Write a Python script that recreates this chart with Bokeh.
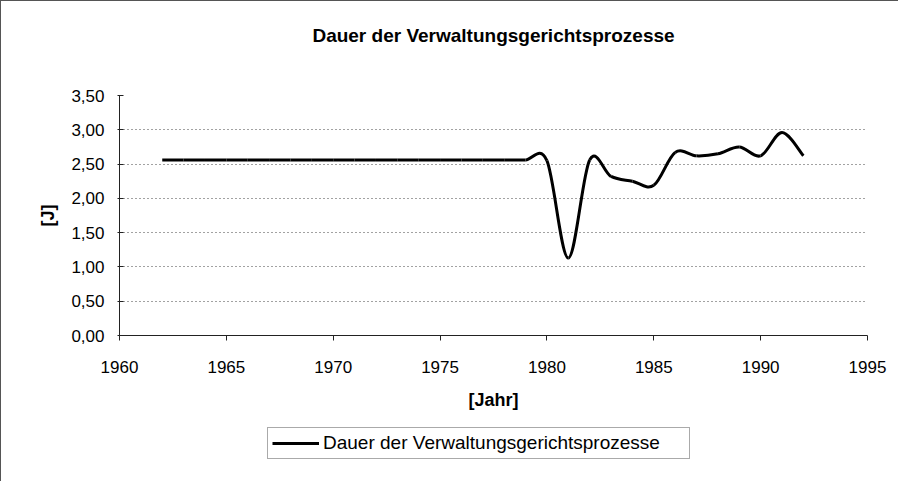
from bokeh.plotting import figure
from bokeh.layouts import column
from bokeh.models import Range1d, FixedTicker, Legend, LegendItem, ColumnDataSource
from bokeh.embed import file_html
from bokeh.resources import INLINE

# ---------------- data ----------------
title_text = "Dauer der Verwaltungsgerichtsprozesse"
series_name = "Dauer der Verwaltungsgerichtsprozesse"
x_axis_label = "[Jahr]"
y_axis_label = "[J]"

years = [1962, 1963, 1964, 1965, 1966, 1967, 1968, 1969, 1970, 1971,
         1972, 1973, 1974, 1975, 1976, 1977, 1978, 1979, 1980, 1981,
         1982, 1983, 1984, 1985, 1986, 1987, 1988, 1989, 1990, 1991, 1992]
dauer = [2.56, 2.56, 2.56, 2.56, 2.56, 2.56, 2.56, 2.56, 2.56, 2.56,
         2.56, 2.56, 2.56, 2.56, 2.56, 2.56, 2.56, 2.56, 2.55, 1.13,
         2.56, 2.32, 2.25, 2.19, 2.67, 2.62, 2.65, 2.75, 2.62, 2.96, 2.62]

x_ticks = [1960, 1965, 1970, 1975, 1980, 1985, 1990, 1995]
x_tick_labels = ["1960", "1965", "1970", "1975", "1980", "1985", "1990", "1995"]
y_ticks = [0.0, 0.5, 1.0, 1.5, 2.0, 2.5, 3.0, 3.5]
y_tick_labels = ["0,00", "0,50", "1,00", "1,50", "2,00", "2,50", "3,00", "3,50"]

# ---- smoothed line (Excel-like): cubic Bezier segments through the data points ----
n = len(years)
x0, y0, x1, y1, cx0, cy0, cx1, cy1 = [], [], [], [], [], [], [], []
for i in range(n - 1):
    a = max(i - 1, 0)
    d = min(i + 2, n - 1)
    x0.append(years[i]); y0.append(dauer[i])
    x1.append(years[i + 1]); y1.append(dauer[i + 1])
    cx0.append(years[i] + (years[i + 1] - years[a]) / 6.0)
    cy0.append(dauer[i] + (dauer[i + 1] - dauer[a]) / 6.0)
    cx1.append(years[i + 1] - (years[d] - years[i]) / 6.0)
    cy1.append(dauer[i + 1] - (dauer[d] - dauer[i]) / 6.0)
src = ColumnDataSource(dict(x0=x0, y0=y0, x1=x1, y1=y1, cx0=cx0, cy0=cy0, cx1=cx1, cy1=cy1))

FONT = "Liberation Sans"
BORDER = "1px solid #555"
W = 898


def strip(height, styles):
    f = figure(width=W, height=height,
               x_range=Range1d(x_ticks[0], x_ticks[-1]),
               y_range=Range1d(y_ticks[0], y_ticks[-1]),
               output_backend="svg", toolbar_location=None,
               min_border=0, min_border_left=118, min_border_right=32,
               min_border_top=0, min_border_bottom=0)
    f.styles = styles
    f.axis.visible = False
    f.grid.visible = False
    f.outline_line_color = None
    f.background_fill_color = "white"
    f.border_fill_color = "white"
    return f


# ---------------- title strip ----------------
t = strip(66, {"border-top": BORDER, "border-left": BORDER})
t.title.text = title_text
t.title.align = "center"
t.title.text_font = FONT
t.title.text_font_style = "bold"
t.title.text_font_size = "19px"
t.title.text_color = "black"
t.title.standoff = 42

# ---------------- main chart ----------------
p = figure(width=W, height=357,
           x_range=Range1d(x_ticks[0], x_ticks[-1]),
           y_range=Range1d(y_ticks[0], y_ticks[-1]),
           output_backend="svg", toolbar_location=None,
           min_border_left=118, min_border_right=32,
           min_border_top=29, min_border_bottom=88)
p.styles = {"border-left": BORDER}
p.background_fill_color = "white"
p.border_fill_color = "white"
p.outline_line_color = None
p.title.text = ""
p.title.standoff = 0

p.bezier(x0="x0", y0="y0", x1="x1", y1="y1", cx0="cx0", cy0="cy0",
         cx1="cx1", cy1="cy1", source=src, line_color="black", line_width=3)

# grid
p.xgrid.visible = False
p.ygrid.ticker = FixedTicker(ticks=y_ticks)
p.ygrid.grid_line_color = "#444444"
p.ygrid.grid_line_dash = "1 3"
p.ygrid.grid_line_width = 1

# x axis
xa = p.xaxis[0]
xa.ticker = FixedTicker(ticks=x_ticks)
xa.major_label_overrides = dict(zip(x_ticks, x_tick_labels))
xa.axis_label = x_axis_label
xa.axis_line_color = "#222222"
xa.major_tick_line_color = "#222222"
xa.major_tick_in = 0
xa.major_tick_out = 5
xa.minor_tick_line_color = None
xa.major_label_standoff = 20
xa.major_label_text_font = FONT
xa.major_label_text_font_size = "17px"
xa.major_label_text_color = "black"
xa.axis_label_text_font = FONT
xa.axis_label_text_font_size = "18px"
xa.axis_label_text_font_style = "bold"
xa.axis_label_text_color = "black"
xa.axis_label_standoff = 14

# y axis
ya = p.yaxis[0]
ya.ticker = FixedTicker(ticks=y_ticks)
ya.major_label_overrides = dict(zip(y_ticks, y_tick_labels))
ya.axis_label = y_axis_label
ya.axis_line_color = "#222222"
ya.major_tick_line_color = "#222222"
ya.major_tick_in = 4
ya.major_tick_out = 2
ya.minor_tick_line_color = None
ya.major_label_standoff = 13
ya.major_label_text_font = FONT
ya.major_label_text_font_size = "17px"
ya.major_label_text_color = "black"
ya.axis_label_text_font = FONT
ya.axis_label_text_font_size = "18px"
ya.axis_label_text_font_style = "bold"
ya.axis_label_text_color = "black"
ya.axis_label_standoff = 10

# ---------------- legend strip (below the chart) ----------------
q = strip(58, {"border-left": BORDER})
# legend key: a line renderer fed with the first data point only (draws no segment itself)
legend_key = q.line(x=years[:1], y=dauer[:1], line_color="black", line_width=3)

legend = Legend(items=[LegendItem(label=series_name, renderers=[legend_key])],
                location=(148, 22), orientation="horizontal")
legend.border_line_color = "#555555"
legend.border_line_width = 1
legend.background_fill_color = "white"
legend.label_text_font = FONT
legend.label_text_font_size = "19px"
legend.label_text_color = "black"
legend.glyph_width = 47
legend.glyph_height = 20
legend.label_width = 362
legend.label_height = 20
legend.label_standoff = 4
legend.padding = 4
legend.margin = 0
q.add_layout(legend, "center")

layout = column(t, p, q, spacing=0)
open("out.html", "w").write(file_html(layout, INLINE))
